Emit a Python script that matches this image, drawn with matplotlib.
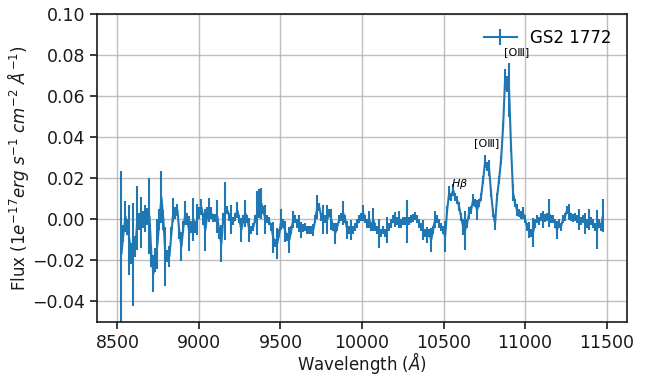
import numpy as np
import matplotlib.pyplot as plt

# --- spectrum ---
flux = [
    -0.0166, -0.0068, 0.0013, -0.0036, -0.0101, -0.0166, -0.0170, -0.0133, 0.0008, -0.0010,
    -0.0015, 0.0000, 0.0005, 0.0013, 0.0016, -0.0180, -0.0265, -0.0198, -0.0120, 0.0000,
    0.0107, -0.0003, -0.0180, -0.0180, -0.0180, -0.0068, 0.0045, 0.0030, 0.0045, -0.0068,
    -0.0133, -0.0036, 0.0030, 0.0000, -0.0068, -0.0036, 0.0000, -0.0036, 0.0000, 0.0030,
    0.0060, 0.0000, -0.0052, 0.0030, 0.0045, 0.0030, 0.0005, 0.0005, 0.0013, -0.0068,
    -0.0120, 0.0013, 0.0040, 0.0045, 0.0013, 0.0000, -0.0010, 0.0013, 0.0045, 0.0000,
    -0.0052, 0.0000, 0.0030, 0.0000, -0.0052, -0.0052, -0.0036, 0.0000, 0.0030, 0.0078,
    0.0078, 0.0045, 0.0000, 0.0000, -0.0010, -0.0036, -0.0090, -0.0117, -0.0117, -0.0068,
    0.0000, -0.0020, -0.0060, -0.0085, -0.0101, -0.0052, 0.0000, 0.0000, -0.0020, -0.0020,
    -0.0052, -0.0044, -0.0036, -0.0052, -0.0052, -0.0052, -0.0052, 0.0000, 0.0060, 0.0060,
    0.0013, 0.0000, 0.0000, 0.0000, 0.0030, 0.0000, -0.0036, -0.0068, -0.0036, 0.0000,
    0.0013, 0.0030, 0.0000, -0.0052, -0.0052, -0.0052, -0.0052, -0.0036, -0.0020, 0.0000,
    0.0013, 0.0030, 0.0000, -0.0020, 0.0000, -0.0036, 0.0000, -0.0036, -0.0052, -0.0068,
    -0.0068, -0.0052, -0.0068, -0.0052, -0.0036, -0.0020, 0.0000, 0.0000, -0.0010, 0.0000,
    -0.0020, -0.0010, -0.0010, -0.0010, -0.0010, 0.0000, 0.0005, 0.0016, 0.0000, -0.0020,
    -0.0036, -0.0052, -0.0068, -0.0076, -0.0068, -0.0101, -0.0052, 0.0000, 0.0000, -0.0020,
    -0.0036, -0.0052, -0.0085, 0.0045, 0.0127, 0.0110, 0.0143, 0.0110, 0.0094, 0.0062,
    0.0013, -0.0036, -0.0052, -0.0020, 0.0030, 0.0045, 0.0094, 0.0078, 0.0045, 0.0078,
    0.0110, 0.0192, 0.0281, 0.0257, 0.0249, 0.0127, 0.0030, -0.0020, 0.0110, 0.0192,
    0.0290, 0.0450, 0.0680, 0.0660, 0.0630, 0.0350, 0.0130, 0.0078, 0.0045, 0.0030,
    0.0020, 0.0030, 0.0000, -0.0036, -0.0052, -0.0068, -0.0065, -0.0020, 0.0000, -0.0010,
    0.0013, 0.0000, 0.0005, 0.0013, 0.0030, 0.0000, 0.0000, -0.0020, -0.0052, -0.0020,
    -0.0036, 0.0000, 0.0013, 0.0045, 0.0037, 0.0013, 0.0005, 0.0013, 0.0000, 0.0000,
    -0.0010, 0.0000, -0.0020, -0.0020, 0.0000, -0.0010, -0.0020, -0.0036, -0.0050, -0.0020,
    -0.0036, 0.0020,
]
err = [
    0.040, 0.004, 0.0076, 0.004, 0.017, 0.005, 0.025, 0.005, 0.0155, 0.004,
    0.0126, 0.004, 0.0065, 0.004, 0.0187, 0.005, 0.009, 0.006, 0.012, 0.005,
    0.0126, 0.005, 0.0144, 0.003, 0.005, 0.003, 0.0057, 0.003, 0.003, 0.003,
    0.007, 0.003, 0.006, 0.003, 0.0085, 0.003, 0.0105, 0.003, 0.0077, 0.003,
    0.004, 0.003, 0.010, 0.003, 0.006, 0.003, 0.002, 0.002, 0.008, 0.003,
    0.009, 0.002, 0.014, 0.002, 0.002, 0.007, 0.002, 0.002, 0.004, 0.002,
    0.006, 0.002, 0.0065, 0.002, 0.006, 0.002, 0.002, 0.002, 0.0107, 0.007,
    0.0075, 0.002, 0.007, 0.002, 0.002, 0.002, 0.0075, 0.002, 0.0077, 0.002,
    0.005, 0.002, 0.005, 0.002, 0.0063, 0.002, 0.004, 0.002, 0.002, 0.004,
    0.004, 0.002, 0.002, 0.002, 0.002, 0.002, 0.003, 0.002, 0.006, 0.002,
    0.002, 0.007, 0.002, 0.007, 0.002, 0.005, 0.002, 0.005, 0.002, 0.002,
    0.002, 0.006, 0.002, 0.0045, 0.002, 0.0047, 0.002, 0.002, 0.002, 0.002,
    0.002, 0.004, 0.002, 0.002, 0.004, 0.002, 0.0055, 0.002, 0.002, 0.007,
    0.002, 0.002, 0.002, 0.0065, 0.002, 0.002, 0.002, 0.0035, 0.002, 0.004,
    0.002, 0.002, 0.002, 0.0105, 0.002, 0.002, 0.002, 0.002, 0.002, 0.002,
    0.002, 0.005, 0.002, 0.004, 0.002, 0.006, 0.002, 0.004, 0.002, 0.002,
    0.002, 0.002, 0.0075, 0.002, 0.0033, 0.002, 0.003, 0.002, 0.002, 0.002,
    0.002, 0.004, 0.0095, 0.002, 0.003, 0.002, 0.003, 0.002, 0.005, 0.002,
    0.002, 0.002, 0.003, 0.002, 0.004, 0.002, 0.002, 0.003, 0.002, 0.002,
    0.002, 0.002, 0.005, 0.004, 0.013, 0.002, 0.004, 0.002, 0.003, 0.002,
    0.002, 0.003, 0.002, 0.002, 0.004, 0.002, 0.007, 0.002, 0.002, 0.002,
    0.002, 0.004, 0.002, 0.002, 0.0067, 0.002, 0.002, 0.002, 0.0045, 0.002,
    0.002, 0.002, 0.002, 0.002, 0.004, 0.002, 0.002, 0.002, 0.002, 0.005,
    0.002, 0.002, 0.0053, 0.002, 0.005, 0.002, 0.002, 0.002, 0.0095, 0.002,
    0.002, 0.008,
]
# regular pixel grid between first and last sample
wave = np.linspace(8525, 11478, len(flux))

# line labels
lines = ['[OⅢ]', '[OⅢ]', r'$H\beta$']
line_x = [10950, 10765, 10599]
line_y = [0.0815, 0.037, 0.0172]

plt.rcParams['font.family'] = 'DejaVu Sans'
fig = plt.figure(figsize=(6.49, 3.75), dpi=100)
ax = fig.add_axes([0.1495, 0.1413, 0.8165, 0.8214])

ax.errorbar(wave, flux, yerr=err, color='#1f77b4', lw=1.5, elinewidth=1.5,
            label='GS2 1772')
for txt, xx, yy in zip(lines, line_x, line_y):
    ax.text(xx, yy, txt, fontsize=8, ha='center', va='center')

ax.set_ylim(-0.05, 0.10)
ax.set_xlim(8375, 11625)
ax.set_xticks([8500, 9000, 9500, 10000, 10500, 11000, 11500])
ax.set_yticks([-0.04, -0.02, 0.0, 0.02, 0.04, 0.06, 0.08, 0.10])
ax.set_xlabel(r'Wavelength ($\AA$)', fontsize=12, color='#1a1a1a', labelpad=-1)
ax.set_ylabel(r'Flux ($1e^{-17}erg\ s^{-1}\ cm^{-2}\ \AA^{-1}$)', fontsize=12,
              color='#1a1a1a', labelpad=1)
ax.grid(True, color='#b0b0b0', lw=1, alpha=0.8)
ax.tick_params(direction='out', length=5, width=1.2, labelsize=12.5,
               colors='#1a1a1a')
for s in ax.spines.values():
    s.set_color('#1a1a1a')
    s.set_linewidth(1.2)
ax.legend(loc='upper right', frameon=False, fontsize=12)

plt.savefig('out.png', dpi=100)
